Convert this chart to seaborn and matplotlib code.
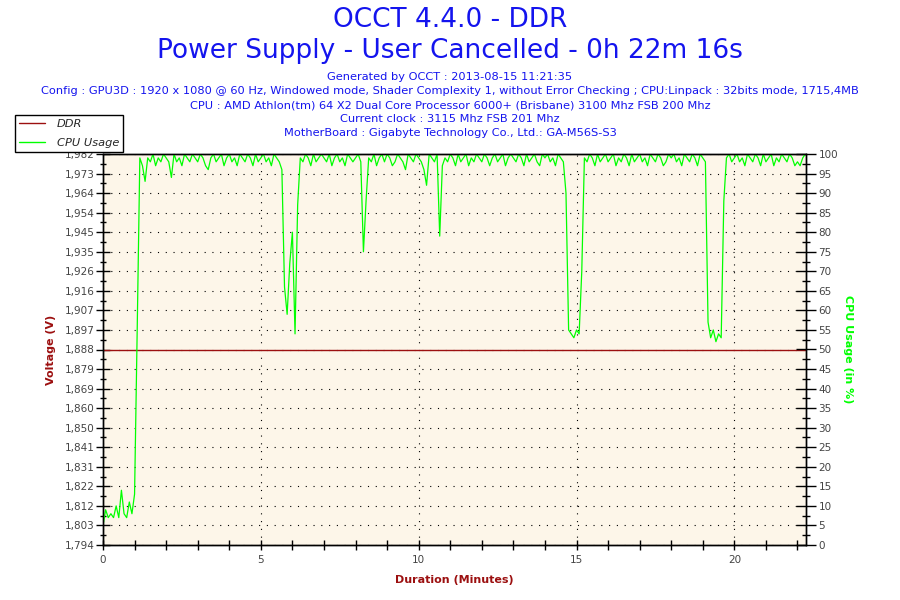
import matplotlib
matplotlib.use("Agg")
import matplotlib.pyplot as plt
from matplotlib.lines import Line2D
from matplotlib.ticker import FixedLocator, MultipleLocator
import numpy as np
import pandas as pd
import seaborn as sns

# header texts
title_main = "OCCT 4.4.0 - DDR"
title_sub = "Power Supply - User Cancelled - 0h 22m 16s"
info_lines = [
    "Generated by OCCT : 2013-08-15 11:21:35",
    "Config : GPU3D : 1920 x 1080 @ 60 Hz, Windowed mode, Shader Complexity 1, without Error Checking ; CPU:Linpack : 32bits mode, 1715,4MB",
    "CPU : AMD Athlon(tm) 64 X2 Dual Core Processor 6000+ (Brisbane) 3100 Mhz FSB 200 Mhz",
    "Current clock : 3115 Mhz FSB 201 Mhz",
    "MotherBoard : Gigabyte Technology Co., Ltd.: GA-M56S-S3",
]

# CPU usage (%), one sample every 5 s, one row per minute
sample_seconds = 5
cpu_usage = [
    5, 9, 7, 8, 7, 10, 7, 14, 8, 7, 11, 8,                 # 0
    13, 55, 99, 97, 93, 99, 98, 100, 97, 99, 98, 100,     # 1
    99, 98, 94, 100, 98, 99, 97, 100, 99, 98, 100, 99,    # 2
    98, 100, 99, 97, 96, 99, 100, 98, 99, 100, 97, 99,    # 3
    100, 98, 99, 97, 100, 99, 98, 100, 99, 97, 100, 98,   # 4
    99, 100, 98, 99, 97, 100, 99, 98, 96, 66, 59, 72,     # 5
    80, 54, 87, 99, 98, 100, 99, 97, 100, 98, 99, 100,    # 6
    99, 98, 100, 97, 99, 100, 98, 99, 97, 100, 99, 98,    # 7
    99, 100, 98, 75, 88, 99, 98, 100, 97, 99, 100, 98,    # 8
    100, 99, 97, 98, 100, 99, 98, 96, 100, 99, 98, 100,   # 9
    99, 98, 96, 92, 100, 99, 98, 100, 79, 97, 99, 98,     # 10
    100, 99, 97, 100, 98, 99, 100, 97, 99, 98, 100, 99,   # 11
    98, 100, 99, 97, 99, 100, 98, 99, 100, 97, 99, 100,   # 12
    99, 98, 100, 99, 97, 100, 98, 99, 100, 98, 97, 100,   # 13
    99, 100, 98, 99, 97, 100, 99, 98, 90, 55, 54, 53,     # 14
    55, 54, 70, 99, 98, 100, 99, 97, 100, 98, 99, 100,    # 15
    98, 99, 100, 97, 99, 98, 100, 99, 97, 100, 98, 99,    # 16
    100, 98, 99, 97, 100, 99, 98, 100, 99, 97, 98, 100,   # 17
    99, 100, 98, 99, 97, 100, 99, 98, 100, 99, 97, 100,   # 18
    99, 98, 57, 53, 55, 52, 54, 53, 88, 99, 100, 98,      # 19
    99, 100, 98, 99, 97, 100, 99, 98, 100, 99, 97, 100,   # 20
    98, 99, 100, 97, 99, 98, 100, 99, 98, 100, 99, 97,    # 21
    98, 97, 99, 100,                                      # 22
]

# DDR voltage stayed flat for the whole run
ddr_minutes = [0.0, 22.27]
ddr_voltage = [1.888, 1.888]

duration_min = 22.27
voltage_ticks = ["1,794", "1,803", "1,812", "1,822", "1,831", "1,841", "1,850",
                 "1,860", "1,869", "1,879", "1,888", "1,897", "1,907", "1,916",
                 "1,926", "1,935", "1,945", "1,954", "1,964", "1,973", "1,982"]
cpu_ticks = [0, 5, 10, 15, 20, 25, 30, 35, 40, 45, 50,
             55, 60, 65, 70, 75, 80, 85, 90, 95, 100]
minute_ticks = [0, 5, 10, 15, 20]

cpu_df = pd.DataFrame({
    "minutes": np.arange(len(cpu_usage)) * sample_seconds / 60.0,
    "cpu": cpu_usage,
})
ddr_df = pd.DataFrame({"minutes": ddr_minutes, "volt": ddr_voltage})

sns.set_style("ticks")
plt.rcParams["font.family"] = ["DejaVu Sans"]

blue = "#1414ee"
red_dark = "#9c1010"
green = "#00ff00"
tick_grey = "#444444"

fig = plt.figure(figsize=(9, 6), dpi=100)
ax = fig.add_axes([103 / 900, 55 / 600, 703 / 900, 391 / 600])
ax.set_facecolor("#fdf6e9")
ax2 = ax.twinx()

# voltage scale: nominal +/- 5 %
v_lo, v_hi = 1.888 * 0.95, 1.888 * 1.05
ax.set_ylim(v_lo, v_hi)
ax2.set_ylim(0, 100)
ax.set_xlim(0, duration_min)

sns.lineplot(data=ddr_df, x="minutes", y="volt", ax=ax, color=red_dark, lw=1.0)
sns.lineplot(data=cpu_df, x="minutes", y="cpu", ax=ax2, color=green, lw=0.9)

vpos = np.linspace(v_lo, v_hi, len(voltage_ticks))
ax.yaxis.set_major_locator(FixedLocator(vpos))
ax.set_yticklabels(voltage_ticks)
ax.yaxis.set_minor_locator(FixedLocator((vpos[:-1] + vpos[1:]) / 2))
ax2.set_yticks(cpu_ticks)
ax2.set_yticklabels([str(c) for c in cpu_ticks])
ax2.yaxis.set_minor_locator(MultipleLocator(2.5))
ax.set_xticks(minute_ticks)
ax.xaxis.set_minor_locator(MultipleLocator(1))

grid_style = dict(color="black", linestyle=(0, (1, 6)), linewidth=0.8)
ax.grid(True, which="major", axis="both", **grid_style)
ax2.grid(False)

for a in (ax, ax2):
    for s in a.spines.values():
        s.set_visible(True)
        s.set_color("black")
        s.set_linewidth(1.0)

ax.tick_params(axis="y", which="major", direction="inout", length=10, width=1,
               color="black", labelcolor=tick_grey, labelsize=7.5, pad=1)
ax.tick_params(axis="y", which="minor", direction="inout", length=5, width=1, color="black")
ax.tick_params(axis="x", which="major", direction="inout", length=7, width=1,
               color="black", labelcolor=tick_grey, labelsize=7.5, pad=4)
ax.tick_params(axis="x", which="minor", direction="inout", length=7, width=1, color="black")
ax2.tick_params(axis="y", which="major", direction="inout", length=14, width=1,
                color="black", labelcolor=tick_grey, labelsize=7.5, pad=2)
ax2.tick_params(axis="y", which="minor", direction="inout", length=6, width=1, color="black")

ax.set_xlabel("Duration (Minutes)", color=red_dark, fontsize=8, fontweight="bold", labelpad=7)
ax.set_ylabel("Voltage (V)", color=red_dark, fontsize=8, fontweight="bold", labelpad=6)
ax2.set_ylabel("CPU Usage (in %)", color=green, fontsize=8, fontweight="bold",
               rotation=270, labelpad=11)

fig.text(0.5, 1 - 20 / 600, title_main, ha="center", va="center", color=blue, fontsize=19)
fig.text(0.5, 1 - 51 / 600, title_sub, ha="center", va="center", color=blue, fontsize=19)
for i, line in enumerate(info_lines):
    fig.text(0.5, 1 - (77 + 14 * i) / 600, line, ha="center", va="center",
             color=blue, fontsize=8.2)

handles = [Line2D([], [], color=red_dark, lw=1.0), Line2D([], [], color=green, lw=1.0)]
leg = fig.legend(handles, ["DDR", "CPU Usage"], loc="upper left",
                 bbox_to_anchor=(15 / 900, 1 - 115 / 600), borderaxespad=0,
                 fancybox=False, framealpha=1, edgecolor="black",
                 prop={"style": "italic", "size": 8.2}, handlelength=2.3,
                 labelspacing=0.75, borderpad=0.35, handletextpad=1.0)
leg.get_frame().set_linewidth(1.0)

fig.savefig("out.png", dpi=100, facecolor="white")
